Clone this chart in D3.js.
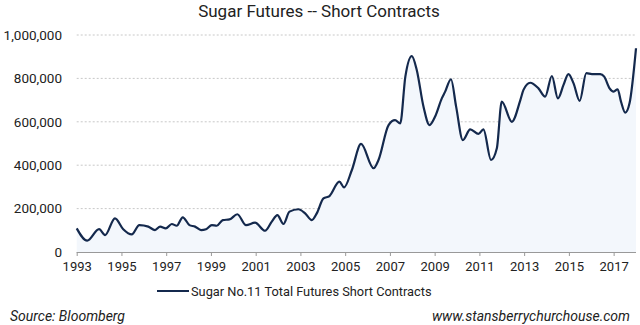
<!DOCTYPE html>
<html><head><meta charset="utf-8">
<script src="https://cdn.jsdelivr.net/npm/d3@7"></script>
<style>body{margin:0;background:#fff;font-family:Roboto,sans-serif}</style>
</head><body><svg id="c" width="640" height="325"></svg>
<script>
const years = [1993.0,1993.47,1994.0,1994.27,1994.71,1995.08,1995.46,1995.8,1996.2,1996.5,1996.73,1996.98,1997.25,1997.47,1997.74,1998.04,1998.29,1998.56,1998.78,1999.04,1999.26,1999.53,1999.83,2000.18,2000.57,2000.97,2001.42,2001.72,2001.97,2002.24,2002.51,2002.91,2003.21,2003.51,2003.73,2004.03,2004.3,2004.74,2004.95,2005.3,2005.71,2006.27,2006.49,2006.94,2007.23,2007.46,2007.69,2007.98,2008.2,2008.5,2008.77,2009.02,2009.32,2009.47,2009.73,2009.96,2010.26,2010.59,2010.96,2011.18,2011.52,2011.78,2012.0,2012.45,2012.83,2012.97,2013.27,2013.64,2013.94,2014.24,2014.51,2014.76,2014.98,2015.21,2015.48,2015.78,2016.03,2016.4,2016.58,2016.82,2017.0,2017.18,2017.33,2017.52,2017.71,2018.0];
const values = [109000,52000,105000,78000,155000,105000,81000,124000,117000,101000,117000,109000,129000,121000,160000,124000,117000,101000,105000,124000,121000,147000,150000,174000,124000,135000,98000,140000,170000,129000,186000,197000,178000,147000,178000,247000,258000,324000,298000,378000,498000,386000,424000,585000,608000,593000,808000,903000,839000,670000,585000,624000,708000,739000,796000,670000,516000,565000,544000,565000,424000,478000,693000,600000,700000,747000,780000,754000,716000,811000,708000,770000,820000,777000,696000,824000,820000,820000,808000,754000,739000,750000,693000,642000,685000,939000];
const yTicks = [0,200000,400000,600000,800000,1000000];
const xTicks = [1993,1995,1997,1999,2001,2003,2005,2007,2009,2011,2013,2015,2017];
const title = "Sugar Futures -- Short Contracts";
const seriesName = "Sugar No.11 Total Futures Short Contracts";
const source = "Source: Bloomberg";
const site = "www.stansberrychurchouse.com";

const svg = d3.select("#c");
const L = 76.7, R = 636, T = 35, B = 252;
const x = d3.scaleLinear().domain([1993, 2018.0]).range([L, R]);
const y = d3.scaleLinear().domain([0, 1000000]).range([B, T]);
const data = years.map((d,i)=>({x:d,y:values[i]}));

svg.append("text").attr("x",319).attr("y",17).attr("text-anchor","middle")
  .attr("font-size",17).attr("fill","#222").text(title);

// grid
svg.append("g").selectAll("line").data(yTicks.filter(d=>d>0)).join("line")
  .attr("x1",L).attr("x2",R).attr("y1",d=>y(d)).attr("y2",d=>y(d))
  .attr("stroke","#c8c8c8").attr("stroke-width",1).attr("stroke-dasharray","2,2");

// area
svg.append("path").datum(data)
  .attr("d", d3.area().x(d=>x(d.x)).y0(y(0)).y1(d=>y(d.y)).curve(d3.curveMonotoneX))
  .attr("fill","#f3f7fc");

// x axis
const xa = svg.append("g").attr("transform",`translate(0,${B})`)
  .call(d3.axisBottom(x).tickValues(xTicks).tickFormat(d3.format("d")).tickSize(4).tickPadding(6));
xa.select(".domain").attr("stroke","#999").attr("d",`M${L},0.5H${R}`);
xa.selectAll(".tick line").attr("stroke","#999");
xa.selectAll("text").attr("font-size",13).attr("fill","#222").attr("font-family","Roboto");

// y axis labels
const ya = svg.append("g").attr("transform",`translate(62,0)`)
  .call(d3.axisLeft(y).tickValues(yTicks).tickFormat(d3.format(",")).tickSize(0).tickPadding(0));
ya.select(".domain").remove();
ya.selectAll("text").attr("font-size",13.5).attr("fill","#222").attr("font-family","Roboto");

// line
svg.append("path").datum(data)
  .attr("d", d3.line().x(d=>x(d.x)).y(d=>y(d.y)).curve(d3.curveMonotoneX))
  .attr("fill","none").attr("stroke","#14294d").attr("stroke-width",2.2).attr("stroke-linejoin","round");

// legend
svg.append("line").attr("x1",157).attr("x2",189).attr("y1",291).attr("y2",291)
  .attr("stroke","#14294d").attr("stroke-width",2);
svg.append("text").attr("x",191).attr("y",296).attr("font-size",12.8).attr("fill","#222").text(seriesName);

svg.append("text").attr("x",10).attr("y",321).attr("font-size",14).attr("font-style","italic").attr("fill","#222").text(source);
svg.append("text").attr("x",630).attr("y",321).attr("text-anchor","end").attr("font-size",14).attr("font-style","italic").attr("fill","#222").text(site);
</script></body></html>
